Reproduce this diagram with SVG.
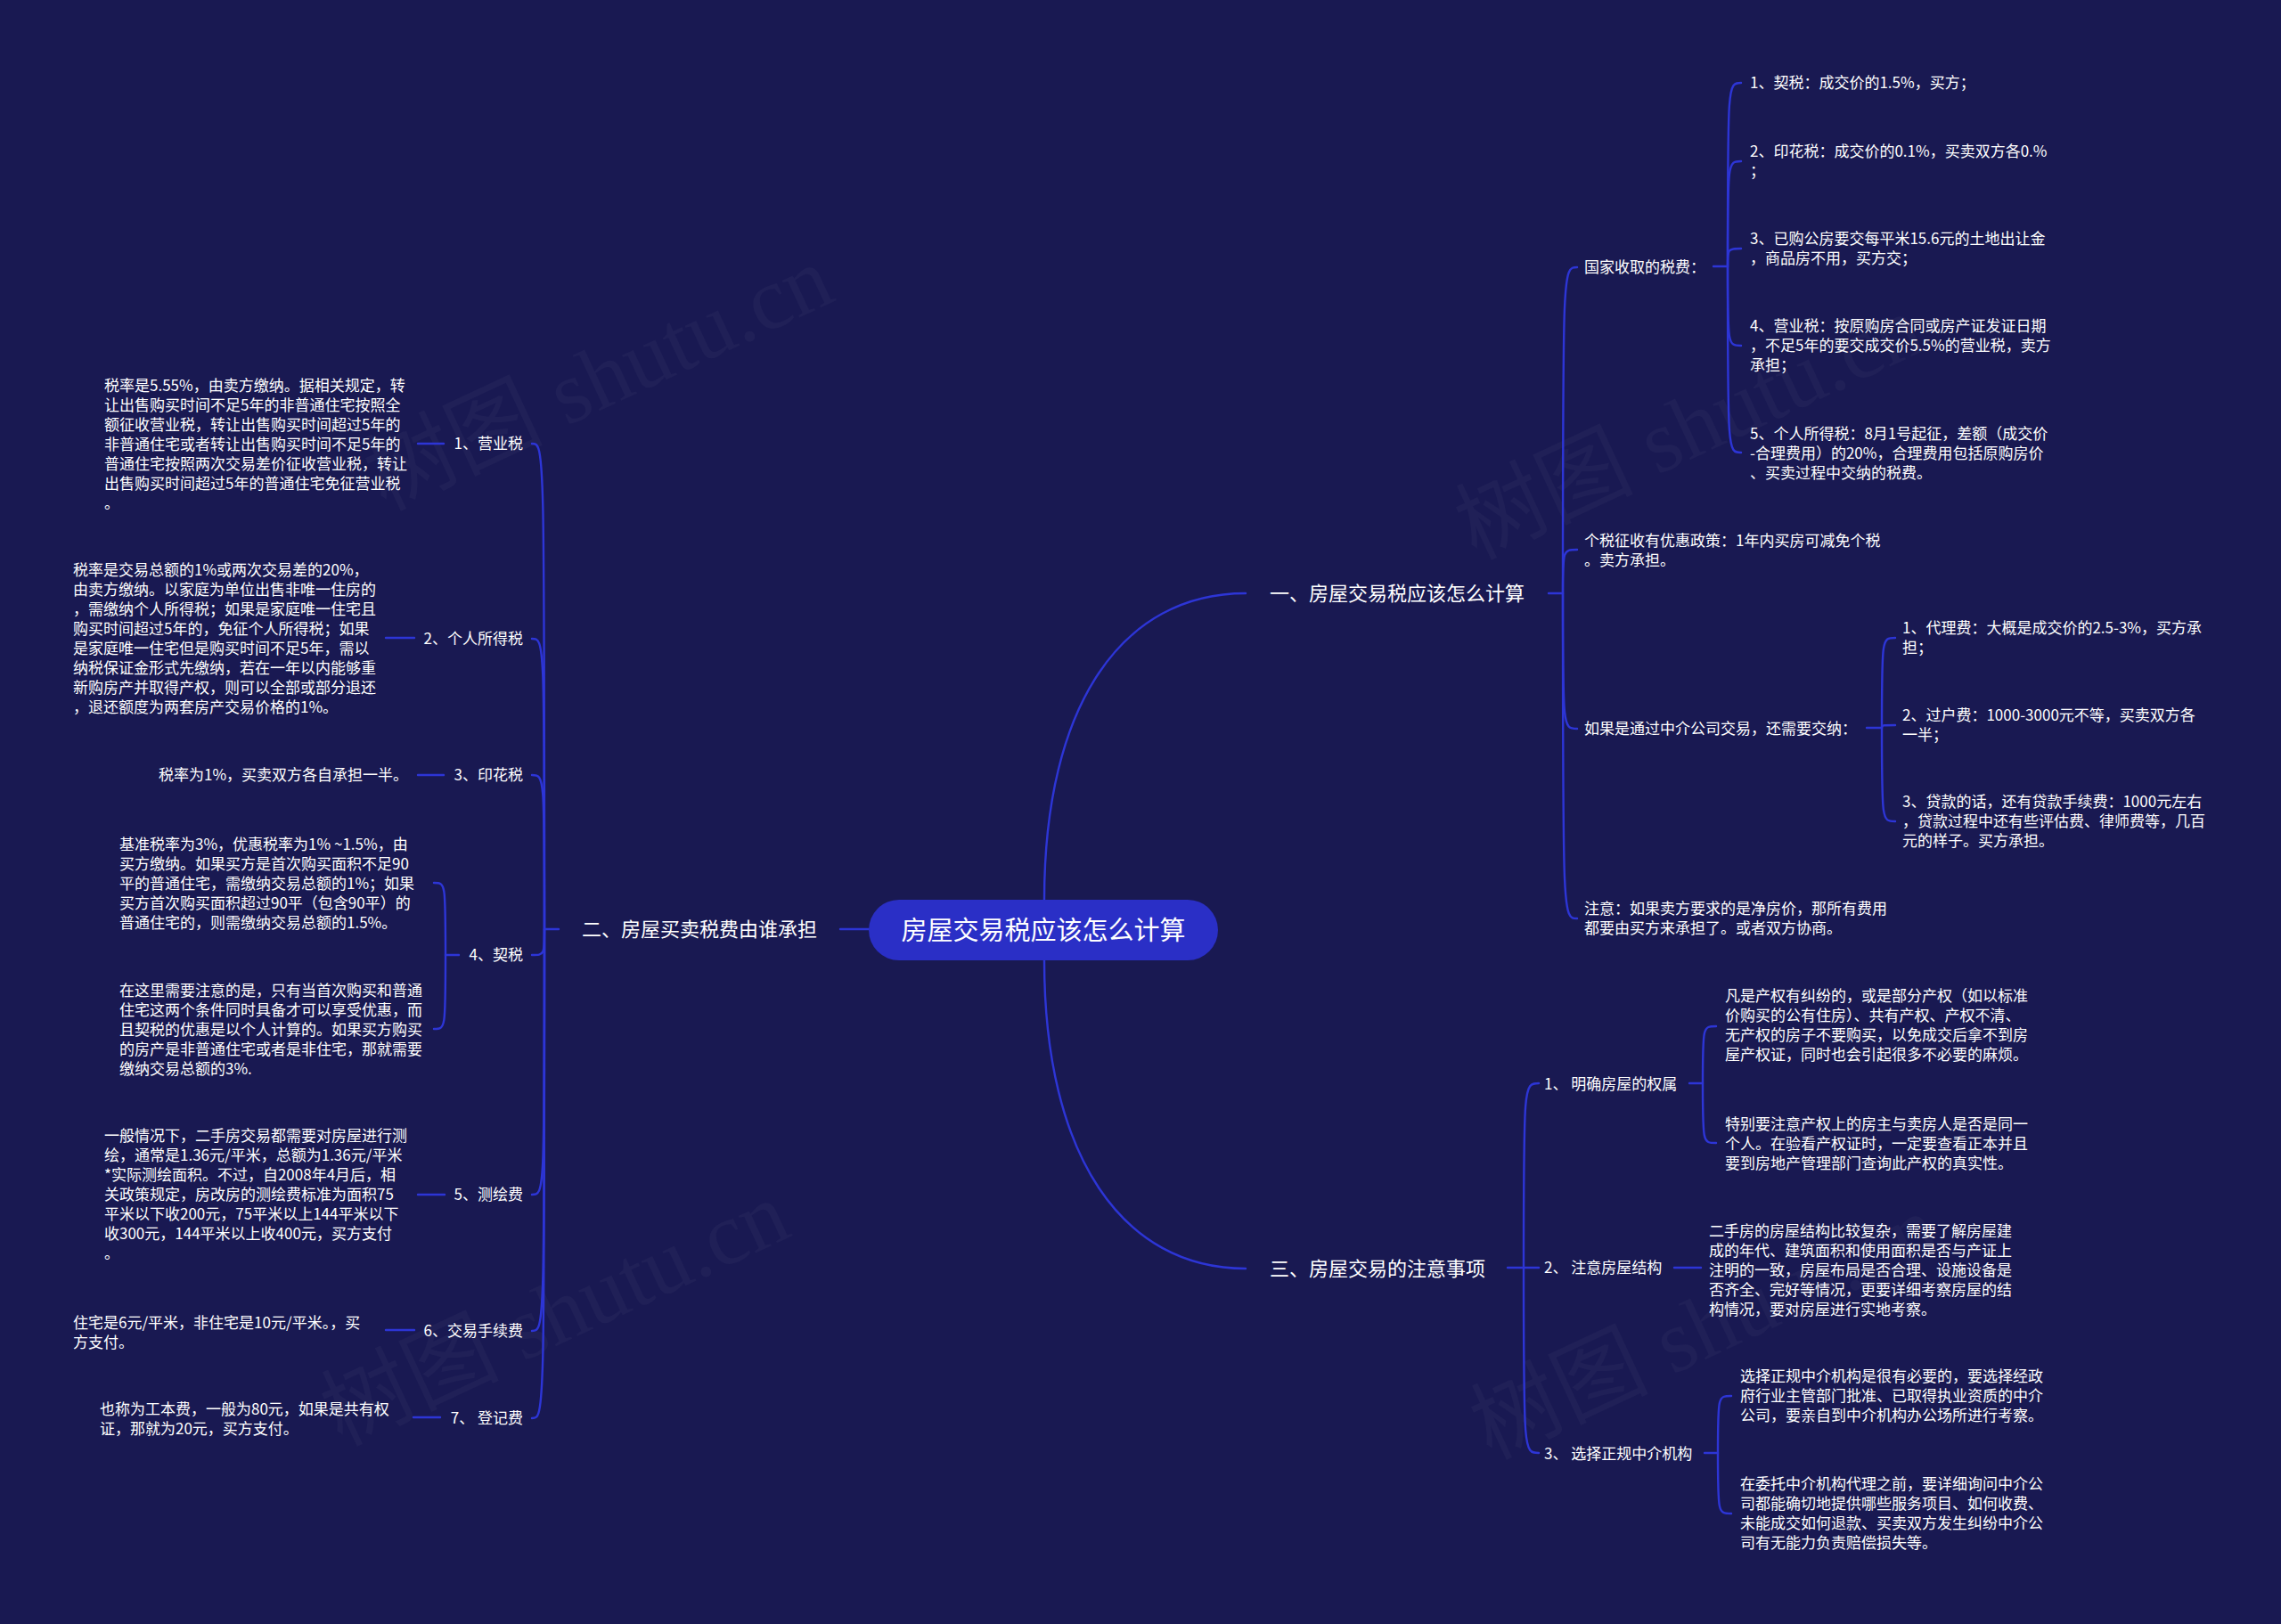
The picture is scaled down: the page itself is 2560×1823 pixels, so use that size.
<svg xmlns="http://www.w3.org/2000/svg" width="2560" height="1823" viewBox="0 0 2560 1823">
<style>
.bg{fill:#191952}
.wm{font-family:"Liberation Serif","Noto Sans CJK SC",serif;font-size:100px;fill:#ffffff;fill-opacity:0.03}
.t{font-family:"Noto Sans CJK SC","Noto Sans",sans-serif;font-size:17px;fill:#ffffff}
.b{font-family:"Noto Sans CJK SC","Noto Sans",sans-serif;font-size:22px;fill:#ffffff}
.r{font-family:"Noto Sans CJK SC","Noto Sans",sans-serif;font-size:29px;fill:#ffffff}
.e{text-anchor:end}
.c path{fill:none;stroke:#2d35d6;stroke-width:2.4;stroke-linecap:round}
</style>
<rect class="bg" x="0" y="0" width="2560" height="1823"/>
<g id="watermark">
<text class="wm" transform="translate(686,455) rotate(-25)" text-anchor="middle">树图 shutu.cn</text>
<text class="wm" transform="translate(1910,510) rotate(-25)" text-anchor="middle">树图 shutu.cn</text>
<text class="wm" transform="translate(637,1505) rotate(-25)" text-anchor="middle">树图 shutu.cn</text>
<text class="wm" transform="translate(1927,1520) rotate(-25)" text-anchor="middle">树图 shutu.cn</text>
</g>
<g id="connectors" class="c">
<path d="M1172,1010 C1172,790 1260,666 1398,666"/>
<path d="M1172,1078 C1172,1298 1260,1424 1398,1424"/>
<path d="M975,1043 H943"/>
<path d="M627,1043 H611"/>
<path d="M611,1043 C611,498 611,498 597,498"/>
<path d="M611,1043 C611,717 611,717 597,717"/>
<path d="M611,1043 C611,870 611,870 597,870"/>
<path d="M611,1043 C611,1072 611,1072 597,1072"/>
<path d="M611,1043 C611,1341 611,1341 597,1341"/>
<path d="M611,1043 C611,1494 611,1494 597,1494"/>
<path d="M611,1043 C611,1592 611,1592 597,1592"/>
<path d="M469,498 H498"/>
<path d="M433,716 H465"/>
<path d="M469,870 H498"/>
<path d="M515,1072 H500"/>
<path d="M500,1072 C500,991 500,991 487,991"/>
<path d="M500,1072 C500,1155 500,1155 487,1155"/>
<path d="M469,1341 H499"/>
<path d="M433,1493 H465"/>
<path d="M464,1591 H494"/>
<path d="M1738,666 H1754"/>
<path d="M1754,666 C1754,300 1754,300 1770,300"/>
<path d="M1754,666 C1754,617 1754,617 1770,617"/>
<path d="M1754,666 C1754,818 1754,818 1770,818"/>
<path d="M1754,666 C1754,1031 1754,1031 1770,1031"/>
<path d="M1923,299 H1939"/>
<path d="M1939,299 C1939,93 1939,93 1954,93"/>
<path d="M1939,299 C1939,181 1939,181 1954,181"/>
<path d="M1939,299 C1939,279 1939,279 1954,279"/>
<path d="M1939,299 C1939,388 1939,388 1954,388"/>
<path d="M1939,299 C1939,508 1939,508 1954,508"/>
<path d="M2095,817 H2112"/>
<path d="M2112,817 C2112,716 2112,716 2127,716"/>
<path d="M2112,817 C2112,814 2112,814 2127,814"/>
<path d="M2112,817 C2112,922 2112,922 2127,922"/>
<path d="M1692,1423 H1710"/>
<path d="M1710,1423 C1710,1216 1710,1216 1727,1216"/>
<path d="M1710,1423 H1727"/>
<path d="M1710,1423 C1710,1631 1710,1631 1727,1631"/>
<path d="M1896,1216 H1911"/>
<path d="M1911,1216 C1911,1152 1911,1152 1926,1152"/>
<path d="M1911,1216 C1911,1283 1911,1283 1926,1283"/>
<path d="M1879,1423 H1909"/>
<path d="M1913,1631 H1928"/>
<path d="M1928,1631 C1928,1567 1928,1567 1943,1567"/>
<path d="M1928,1631 C1928,1699 1928,1699 1943,1699"/>
</g>
<g id="root">
<rect x="975" y="1010" width="392" height="68" rx="34" fill="#2a2fc6"/>
<text class="r" x="1171" y="1055" text-anchor="middle">房屋交易税应该怎么计算</text>
</g>
<g id="b1"><text class="b" x="1425" y="674">一、房屋交易税应该怎么计算</text></g>
<g id="b2"><text class="b" x="653" y="1051">二、房屋买卖税费由谁承担</text></g>
<g id="b3"><text class="b" x="1425" y="1432">三、房屋交易的注意事项</text></g>
<g id="n-guojia"><text class="t" x="1778" y="306">国家收取的税费&#xFF1A;</text></g>
<g id="n-gj1"><text class="t" x="1964" y="99">1、契税&#xFF1A;成交价的1.5%&#xFF0C;买方&#xFF1B;</text></g>
<g id="n-gj2"><text class="t" y="176"><tspan x="1964">2、印花税&#xFF1A;成交价的0.1%&#xFF0C;买卖双方各0.%</tspan><tspan x="1964" dy="22">&#xFF1B;</tspan></text></g>
<g id="n-gj3"><text class="t" y="274"><tspan x="1964">3、已购公房要交每平米15.6元的土地出让金</tspan><tspan x="1964" dy="22">&#xFF0C;商品房不用&#xFF0C;买方交&#xFF1B;</tspan></text></g>
<g id="n-gj4"><text class="t" y="372"><tspan x="1964">4、营业税&#xFF1A;按原购房合同或房产证发证日期</tspan><tspan x="1964" dy="22">&#xFF0C;不足5年的要交成交价5.5%的营业税&#xFF0C;卖方</tspan><tspan x="1964" dy="22">承担&#xFF1B;</tspan></text></g>
<g id="n-gj5"><text class="t" y="493"><tspan x="1964">5、个人所得税&#xFF1A;8月1号起征&#xFF0C;差额&#xFF08;成交价</tspan><tspan x="1964" dy="22">-合理费用&#xFF09;的20%&#xFF0C;合理费用包括原购房价</tspan><tspan x="1964" dy="22">、买卖过程中交纳的税费。</tspan></text></g>
<g id="n-geshui"><text class="t" y="613"><tspan x="1778">个税征收有优惠政策&#xFF1A;1年内买房可减免个税</tspan><tspan x="1778" dy="22">。卖方承担。</tspan></text></g>
<g id="n-zhongjie"><text class="t" x="1778" y="824">如果是通过中介公司交易&#xFF0C;还需要交纳&#xFF1A;</text></g>
<g id="n-zj1"><text class="t" y="711"><tspan x="2135">1、代理费&#xFF1A;大概是成交价的2.5-3%&#xFF0C;买方承</tspan><tspan x="2135" dy="22">担&#xFF1B;</tspan></text></g>
<g id="n-zj2"><text class="t" y="809"><tspan x="2135">2、过户费&#xFF1A;1000-3000元不等&#xFF0C;买卖双方各</tspan><tspan x="2135" dy="22">一半&#xFF1B;</tspan></text></g>
<g id="n-zj3"><text class="t" y="906"><tspan x="2135">3、贷款的话&#xFF0C;还有贷款手续费&#xFF1A;1000元左右</tspan><tspan x="2135" dy="22">&#xFF0C;贷款过程中还有些评估费、律师费等&#xFF0C;几百</tspan><tspan x="2135" dy="22">元的样子。买方承担。</tspan></text></g>
<g id="n-zhuyi"><text class="t" y="1026"><tspan x="1778">注意&#xFF1A;如果卖方要求的是净房价&#xFF0C;那所有费用</tspan><tspan x="1778" dy="22">都要由买方来承担了。或者双方协商。</tspan></text></g>
<g id="n-l1"><text class="t e" x="587" y="504">1、营业税</text></g>
<g id="n-l1d"><text class="t" y="439"><tspan x="117">税率是5.55%&#xFF0C;由卖方缴纳。据相关规定&#xFF0C;转</tspan><tspan x="117" dy="22">让出售购买时间不足5年的非普通住宅按照全</tspan><tspan x="117" dy="22">额征收营业税&#xFF0C;转让出售购买时间超过5年的</tspan><tspan x="117" dy="22">非普通住宅或者转让出售购买时间不足5年的</tspan><tspan x="117" dy="22">普通住宅按照两次交易差价征收营业税&#xFF0C;转让</tspan><tspan x="117" dy="22">出售购买时间超过5年的普通住宅免征营业税</tspan><tspan x="117" dy="22">。</tspan></text></g>
<g id="n-l2"><text class="t e" x="587" y="723">2、个人所得税</text></g>
<g id="n-l2d"><text class="t" y="646"><tspan x="82">税率是交易总额的1%或两次交易差的20%&#xFF0C;</tspan><tspan x="82" dy="22">由卖方缴纳。以家庭为单位出售非唯一住房的</tspan><tspan x="82" dy="22">&#xFF0C;需缴纳个人所得税&#xFF1B;如果是家庭唯一住宅且</tspan><tspan x="82" dy="22">购买时间超过5年的&#xFF0C;免征个人所得税&#xFF1B;如果</tspan><tspan x="82" dy="22">是家庭唯一住宅但是购买时间不足5年&#xFF0C;需以</tspan><tspan x="82" dy="22">纳税保证金形式先缴纳&#xFF0C;若在一年以内能够重</tspan><tspan x="82" dy="22">新购房产并取得产权&#xFF0C;则可以全部或部分退还</tspan><tspan x="82" dy="22">&#xFF0C;退还额度为两套房产交易价格的1%。</tspan></text></g>
<g id="n-l3"><text class="t e" x="587" y="876">3、印花税</text></g>
<g id="n-l3d"><text class="t" x="178" y="876">税率为1%&#xFF0C;买卖双方各自承担一半。</text></g>
<g id="n-l4"><text class="t e" x="587" y="1078">4、契税</text></g>
<g id="n-l4a"><text class="t" y="954"><tspan x="134">基准税率为3%&#xFF0C;优惠税率为1% ~1.5%&#xFF0C;由</tspan><tspan x="134" dy="22">买方缴纳。如果买方是首次购买面积不足90</tspan><tspan x="134" dy="22">平的普通住宅&#xFF0C;需缴纳交易总额的1%&#xFF1B;如果</tspan><tspan x="134" dy="22">买方首次购买面积超过90平&#xFF08;包含90平&#xFF09;的</tspan><tspan x="134" dy="22">普通住宅的&#xFF0C;则需缴纳交易总额的1.5%。</tspan></text></g>
<g id="n-l4b"><text class="t" y="1118"><tspan x="134">在这里需要注意的是&#xFF0C;只有当首次购买和普通</tspan><tspan x="134" dy="22">住宅这两个条件同时具备才可以享受优惠&#xFF0C;而</tspan><tspan x="134" dy="22">且契税的优惠是以个人计算的。如果买方购买</tspan><tspan x="134" dy="22">的房产是非普通住宅或者是非住宅&#xFF0C;那就需要</tspan><tspan x="134" dy="22">缴纳交易总额的3%.</tspan></text></g>
<g id="n-l5"><text class="t e" x="587" y="1347">5、测绘费</text></g>
<g id="n-l5d"><text class="t" y="1281"><tspan x="117">一般情况下&#xFF0C;二手房交易都需要对房屋进行测</tspan><tspan x="117" dy="22">绘&#xFF0C;通常是1.36元/平米&#xFF0C;总额为1.36元/平米</tspan><tspan x="117" dy="22">*实际测绘面积。不过&#xFF0C;自2008年4月后&#xFF0C;相</tspan><tspan x="117" dy="22">关政策规定&#xFF0C;房改房的测绘费标准为面积75</tspan><tspan x="117" dy="22">平米以下收200元&#xFF0C;75平米以上144平米以下</tspan><tspan x="117" dy="22">收300元&#xFF0C;144平米以上收400元&#xFF0C;买方支付</tspan><tspan x="117" dy="22">。</tspan></text></g>
<g id="n-l6"><text class="t e" x="587" y="1500">6、交易手续费</text></g>
<g id="n-l6d"><text class="t" y="1491"><tspan x="82">住宅是6元/平米&#xFF0C;非住宅是10元/平米。&#xFF0C;买</tspan><tspan x="82" dy="22">方支付。</tspan></text></g>
<g id="n-l7"><text class="t e" x="587" y="1598">7、 登记费</text></g>
<g id="n-l7d"><text class="t" y="1588"><tspan x="112">也称为工本费&#xFF0C;一般为80元&#xFF0C;如果是共有权</tspan><tspan x="112" dy="22">证&#xFF0C;那就为20元&#xFF0C;买方支付。</tspan></text></g>
<g id="n-r1"><text class="t" x="1733" y="1223">1、 明确房屋的权属</text></g>
<g id="n-r1a"><text class="t" y="1124"><tspan x="1936">凡是产权有纠纷的&#xFF0C;或是部分产权&#xFF08;如以标准</tspan><tspan x="1936" dy="22">价购买的公有住房&#xFF09;、共有产权、产权不清、</tspan><tspan x="1936" dy="22">无产权的房子不要购买&#xFF0C;以免成交后拿不到房</tspan><tspan x="1936" dy="22">屋产权证&#xFF0C;同时也会引起很多不必要的麻烦。</tspan></text></g>
<g id="n-r1b"><text class="t" y="1268"><tspan x="1936">特别要注意产权上的房主与卖房人是否是同一</tspan><tspan x="1936" dy="22">个人。在验看产权证时&#xFF0C;一定要查看正本并且</tspan><tspan x="1936" dy="22">要到房地产管理部门查询此产权的真实性。</tspan></text></g>
<g id="n-r2"><text class="t" x="1733" y="1429">2、 注意房屋结构</text></g>
<g id="n-r2d"><text class="t" y="1388"><tspan x="1918">二手房的房屋结构比较复杂&#xFF0C;需要了解房屋建</tspan><tspan x="1918" dy="22">成的年代、建筑面积和使用面积是否与产证上</tspan><tspan x="1918" dy="22">注明的一致&#xFF0C;房屋布局是否合理、设施设备是</tspan><tspan x="1918" dy="22">否齐全、完好等情况&#xFF0C;更要详细考察房屋的结</tspan><tspan x="1918" dy="22">构情况&#xFF0C;要对房屋进行实地考察。</tspan></text></g>
<g id="n-r3"><text class="t" x="1733" y="1638">3、 选择正规中介机构</text></g>
<g id="n-r3a"><text class="t" y="1551"><tspan x="1953">选择正规中介机构是很有必要的&#xFF0C;要选择经政</tspan><tspan x="1953" dy="22">府行业主管部门批准、已取得执业资质的中介</tspan><tspan x="1953" dy="22">公司&#xFF0C;要亲自到中介机构办公场所进行考察。</tspan></text></g>
<g id="n-r3b"><text class="t" y="1672"><tspan x="1953">在委托中介机构代理之前&#xFF0C;要详细询问中介公</tspan><tspan x="1953" dy="22">司都能确切地提供哪些服务项目、如何收费、</tspan><tspan x="1953" dy="22">未能成交如何退款、买卖双方发生纠纷中介公</tspan><tspan x="1953" dy="22">司有无能力负责赔偿损失等。</tspan></text></g>
</svg>
